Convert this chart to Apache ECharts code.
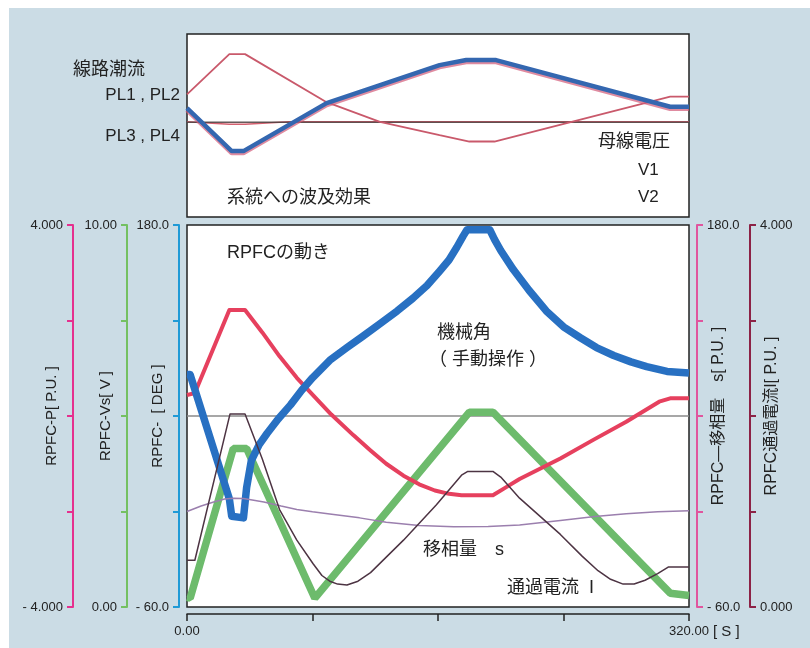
<!DOCTYPE html>
<html>
<head>
<meta charset="utf-8">
<script src="https://cdn.jsdelivr.net/npm/echarts@6/dist/echarts.min.js"></script>
<style>
  html, body { margin: 0; padding: 0; background: #fff; }
  #wrap { position: relative; width: 810px; height: 648px; }
  #bg { position: absolute; left: 9px; top: 8px; width: 801px; height: 640px; background: #cbdce5; }
  #chart { position: absolute; left: 0; top: 0; width: 810px; height: 648px; }
</style>
</head>
<body>
<div id="wrap">
  <div id="bg"></div>
  <div id="chart"></div>
</div>
<script>
// time axis [s]
const timeMin = 0;
const timeMax = 320;

// upper panel: effect on the system (relative values)
const linePL1 = [[0, 0.68], [27, 1.56], [37, 1.56], [89, 0.51], [123, 0.08], [161, -0.21], [180, -0.35], [196, -0.35], [308, 0.63], [320, 0.63]];
const linePL2 = [[0, 0.38], [28.5, -0.56], [36, -0.56], [89, 0.49], [161, 1.32], [178, 1.43], [197, 1.43], [308, 0.41], [320, 0.41]];
const linePL3 = [[0, 0.08], [27, 0.03], [37, 0.03], [65, 0.08], [200, 0.08], [320, 0.08]];
const busV1 = [[0, 0.07], [80, 0.07], [160, 0.07], [240, 0.07], [320, 0.07]];

// lower panel: RPFC behaviour
const angleDeg = [[0, 86], [2, 86], [27, 8], [28.5, -3], [36, -4], [38, 15], [41, 32], [46, 42], [51, 49], [58, 58], [66, 67], [73, 76], [80, 84], [91, 95], [102, 103], [112, 110], [123, 118], [134, 126], [144, 134], [153, 142], [161, 151], [167, 158], [172, 166], [176, 173], [178.5, 177], [193, 177], [196, 171], [200, 164], [208, 152], [218, 139], [229, 126], [240, 116], [251, 109], [261, 103], [272, 98], [283, 94], [293, 91], [306, 88], [320, 87]];
const powerPU = [[0, 0.44], [5, 0.48], [27, 2.22], [37, 2.22], [48, 1.75], [59, 1.25], [70, 0.8], [80, 0.45], [92, 0.03], [106, -0.4], [117, -0.72], [127, -1.0], [138, -1.25], [148, -1.43], [158, -1.56], [167, -1.63], [175, -1.66], [195, -1.66], [203, -1.5], [212, -1.32], [238, -0.89], [259, -0.5], [280, -0.12], [301, 0.3], [308, 0.37], [320, 0.37]];
const voltageVs = [[0, 0.25], [2, 0.23], [29.5, 4.15], [38, 4.15], [81.5, 0.23], [180, 5.1], [195, 5.1], [308, 0.36], [320, 0.3]];
const currentPU = [[0, 0.49], [5, 0.49], [27.4, 2.02], [37, 2.02], [48, 1.55], [59, 1.02], [70, 0.7], [80.5, 0.45], [86, 0.33], [91, 0.27], [96, 0.24], [102, 0.23], [109, 0.27], [117, 0.36], [138, 0.7], [159, 1.07], [175, 1.38], [179, 1.42], [195, 1.42], [200, 1.36], [212, 1.14], [238, 0.76], [252, 0.53], [262, 0.38], [270, 0.29], [278, 0.24], [285, 0.24], [292, 0.28], [300, 0.35], [307, 0.42], [320, 0.42]];
const shiftS = [[0, 0], [9, 3.5], [17, 6], [24, 7.8], [29.5, 8.3], [36, 8.1], [49, 6], [60, 3.4], [70, 1.3], [80, -0.2], [91, -1.5], [110, -4], [127, -6.8], [148, -8.8], [170, -9.6], [192, -9.4], [212, -8.5], [238, -5.6], [260, -3.2], [280, -1.4], [300, -0.2], [320, 0.5]];
const zeroLine = [[0, 0], [320, 0]];

const FONT = "'Liberation Sans','Noto Sans CJK JP',sans-serif";
const INK = "#222";

function endLabels(top, bottom, topText, bottomText) {
  return (v) => (v === top ? topText : v === bottom ? bottomText : "");
}

function sideAxis(opt) {
  return {
    type: "value",
    gridIndex: 0,
    position: opt.position,
    offset: opt.offset,
    min: opt.min,
    max: opt.max,
    interval: opt.interval,
    name: opt.name,
    nameLocation: "middle",
    nameRotate: 90,
    nameGap: opt.nameGap || 14,
    nameMoveOverlap: false,
    nameTextStyle: { color: INK, fontSize: opt.nameSize || 15, fontFamily: FONT },
    axisLine: { show: true, onZero: false, lineStyle: { color: opt.color, width: 2 } },
    axisTick: { show: true, inside: false, length: 6, lineStyle: { color: opt.color, width: 2 } },
    axisLabel: {
      color: INK,
      fontSize: 13,
      fontFamily: FONT,
      margin: 10,
      showMinLabel: true,
      showMaxLabel: true,
      formatter: opt.formatter,
    },
    splitLine: { show: false },
  };
}

function note(text, x, y, size, align) {
  return {
    type: "text",
    x: x,
    y: y,
    z: 100,
    style: {
      text: text,
      font: (size || 18) + "px " + FONT,
      fill: INK,
      align: align || "left",
      verticalAlign: "middle",
      textAlign: align || "left",
      textVerticalAlign: "middle",
    },
  };
}

const chart = echarts.init(document.getElementById("chart"));

const option = {
  animation: false,
  backgroundColor: "transparent",
  grid: [
    { left: 187, right: 121, top: 225, bottom: 41, containLabel: false, outerBoundsMode: "none", show: true, backgroundColor: "#fff", borderColor: INK, borderWidth: 1.5 },
    { left: 187, right: 121, top: 34, height: 183, containLabel: false, outerBoundsMode: "none", show: true, backgroundColor: "#fff", borderColor: INK, borderWidth: 1.5 },
  ],
  xAxis: [
    {
      type: "value",
      gridIndex: 0,
      min: timeMin,
      max: timeMax,
      interval: 80,
      offset: 7,
      axisLine: { show: true, onZero: false, lineStyle: { color: INK, width: 1.5 } },
      axisTick: { show: true, length: 7, lineStyle: { color: INK, width: 1.5 } },
      axisLabel: {
        color: INK,
        fontSize: 13,
        fontFamily: FONT,
        margin: 11,
        showMinLabel: true,
        showMaxLabel: true,
        formatter: endLabels(320, 0, "320.00", "0.00"),
      },
      splitLine: { show: false },
    },
    { type: "value", gridIndex: 1, min: timeMin, max: timeMax, show: false },
  ],
  yAxis: [
    sideAxis({ position: "left", offset: 114, min: -4, max: 4, interval: 2, color: "#e5308e", name: "RPFC-P[ P.U. ]", formatter: endLabels(4, -4, "4.000", "- 4.000") }),
    sideAxis({ position: "left", offset: 60, min: 0, max: 10, interval: 2.5, color: "#74c062", name: "RPFC-Vs[ V ]", formatter: endLabels(10, 0, "10.00", "0.00") }),
    sideAxis({ position: "left", offset: 8, min: -60, max: 180, interval: 60, color: "#1f9ad6", name: "RPFC-  [ DEG ]", formatter: endLabels(180, -60, "180.0", "- 60.0") }),
    sideAxis({ position: "right", offset: 8, min: -60, max: 180, interval: 60, color: "#e0559e", name: "RPFC—移相量　s[ P.U. ]", nameSize: 16, formatter: endLabels(180, -60, "180.0", "- 60.0") }),
    sideAxis({ position: "right", offset: 61, min: 0, max: 4, interval: 1, color: "#8c2246", name: "RPFC通過電流I[ P.U. ]", nameSize: 16, formatter: endLabels(4, 0, "4.000", "0.000") }),
    { type: "value", gridIndex: 1, min: -2, max: 2, show: false },
  ],
  series: [
    // upper panel
    { name: "PL3", type: "line", xAxisIndex: 1, yAxisIndex: 5, data: linePL3, showSymbol: false, lineStyle: { color: "#d4606f", width: 1.5 } },
    { name: "V1", type: "line", xAxisIndex: 1, yAxisIndex: 5, data: busV1, showSymbol: false, lineStyle: { color: "#4a3e3e", width: 1.5, opacity: 0.85 } },
    { name: "PL1", type: "line", xAxisIndex: 1, yAxisIndex: 5, data: linePL1, showSymbol: false, lineStyle: { color: "#c9596b", width: 1.8 } },
    {
      name: "PL2", type: "line", xAxisIndex: 1, yAxisIndex: 5, data: linePL2, showSymbol: false,
      lineStyle: { color: "#3467b0", width: 4.5, shadowColor: "rgba(210,90,120,0.7)", shadowOffsetY: 2, shadowBlur: 0 },
    },
    // lower panel
    { name: "zero", type: "line", xAxisIndex: 0, yAxisIndex: 0, data: zeroLine, showSymbol: false, lineStyle: { color: "#8a8a8a", width: 1.5 } },
    { name: "Vs", type: "line", xAxisIndex: 0, yAxisIndex: 1, data: voltageVs, showSymbol: false, lineStyle: { color: "#6dbb6c", width: 7.5 } },
    { name: "P", type: "line", xAxisIndex: 0, yAxisIndex: 0, data: powerPU, showSymbol: false, lineStyle: { color: "#e6405e", width: 4, join: "round" } },
    { name: "θ", type: "line", xAxisIndex: 0, yAxisIndex: 2, data: angleDeg, showSymbol: false, lineStyle: { color: "#2870c2", width: 7.5, join: "round" } },
    { name: "s", type: "line", xAxisIndex: 0, yAxisIndex: 3, data: shiftS, showSymbol: false, lineStyle: { color: "#9b7fae", width: 1.5 } },
    { name: "I", type: "line", xAxisIndex: 0, yAxisIndex: 4, data: currentPU, showSymbol: false, lineStyle: { color: "#4d3443", width: 1.5, join: "round" } },
  ],
  graphic: [
    note("線路潮流", 73, 70, 18),
    note("PL1 , PL2", 180, 95, 17, "right"),
    note("PL3 , PL4", 180, 136, 17, "right"),
    note("母線電圧", 598, 142, 18),
    note("V1", 638, 170, 17),
    note("V2", 638, 197, 17),
    note("系統への波及効果", 227, 198, 18),
    note("RPFCの動き", 227, 253, 18),
    note("機械角", 437, 333, 18),
    note("（ 手動操作 ）", 429, 360, 18),
    note("移相量　s", 423, 550, 18),
    note("通過電流  I", 507, 588, 18),
    note("[ S ]", 713, 632, 15),
  ],
};

chart.setOption(option);
</script>
</body>
</html>
